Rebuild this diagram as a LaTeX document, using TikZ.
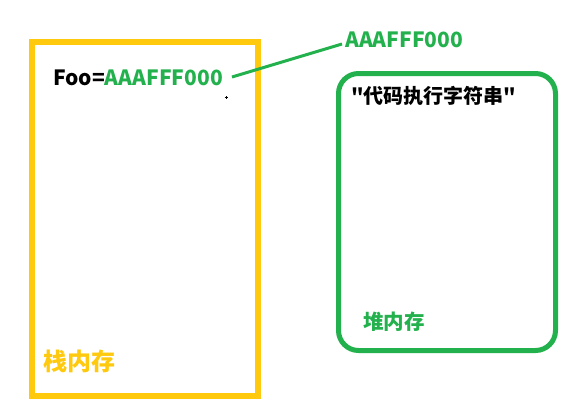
\documentclass[tikz,border=0pt]{standalone}
\usepackage{fontspec}
\setmainfont{Noto Sans CJK SC}
\newfontfamily\cjk{Noto Sans CJK SC}
\definecolor{ygold}{HTML}{FFC90E}
\definecolor{pgreen}{HTML}{22B14C}
\tikzset{
  lbl/.style={inner sep=0pt, font=\cjk\bfseries\fontsize{21}{24}\selectfont},
  stackbox/.style={draw=ygold, line width=6pt},
  heapbox/.style={draw=pgreen, line width=5pt, rounded corners=20pt},
  ptr/.style={draw=pgreen, line width=3pt}
}
\begin{document}
\begin{tikzpicture}[x=1pt,y=-1pt]
\useasboundingbox (0,0) rectangle (572,416);
\node[stackbox, minimum width=226pt, minimum height=354pt, inner sep=0pt, anchor=north west] (stack) at (29,39) {};
\node[heapbox, minimum width=217pt, minimum height=277pt, inner sep=0pt, anchor=north west] (heap) at (336,71) {};
\node[lbl, anchor=west] (foo) at (53,78) {Foo=\textcolor{pgreen}{AAAFFF000}};
\node[lbl, anchor=west, text=pgreen] (addr) at (345,40) {AAAFFF000};
\node[lbl, anchor=west, font=\cjk\bfseries\fontsize{20}{23}\selectfont] (str) at (351,96) {"代码执行字符串"};
\node[lbl, anchor=west, text=ygold, font=\cjk\bfseries\fontsize{24}{27}\selectfont] (stk) at (43,361) {栈内存};
\node[lbl, anchor=west, text=pgreen, font=\cjk\bfseries\fontsize{20.5}{23}\selectfont] (hp) at (363,322) {堆内存};
\coordinate (p1) at (232,77);
\coordinate (p2) at (342,44);
\draw[ptr] (p1) -- (p2);
\coordinate (dot) at (226,97);
\draw[line width=0.8pt] ([xshift=-1.5pt]dot) -- ([xshift=1.5pt]dot) ([yshift=-1.5pt]dot) -- ([yshift=1.5pt]dot);
\end{tikzpicture}
\end{document}
